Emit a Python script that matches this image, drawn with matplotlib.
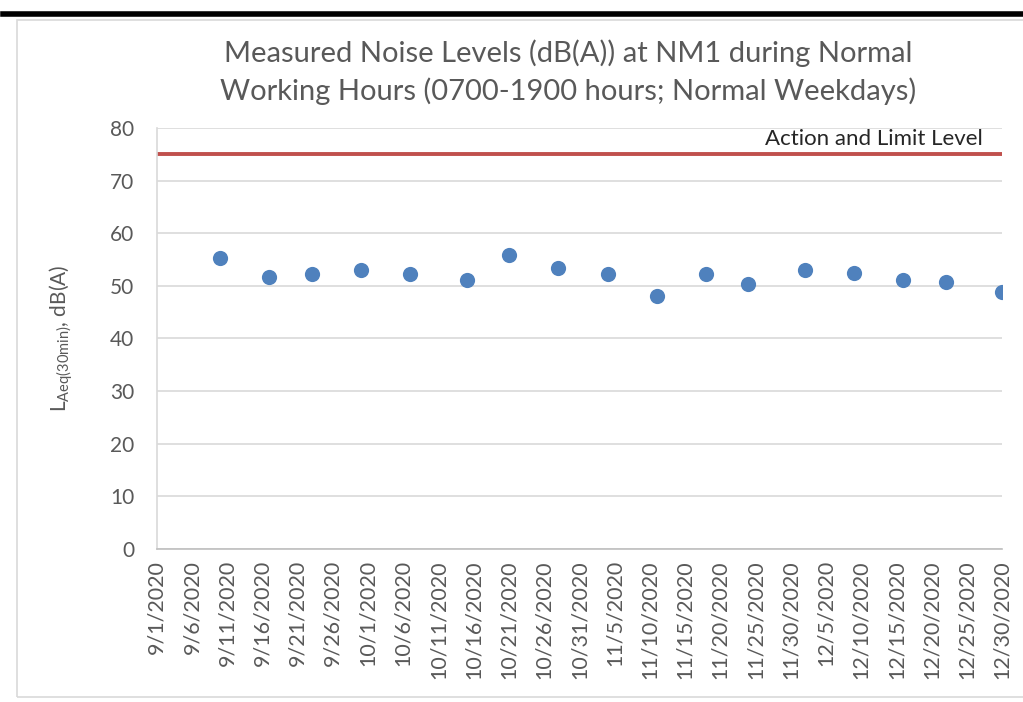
import datetime as dt
import matplotlib
matplotlib.use("Agg")
import matplotlib.pyplot as plt
import matplotlib.dates as mdates
from matplotlib.lines import Line2D
from matplotlib.patches import Rectangle

# data
dates = ["2020-09-10", "2020-09-17", "2020-09-23", "2020-09-30", "2020-10-07",
         "2020-10-15", "2020-10-21", "2020-10-28", "2020-11-04", "2020-11-11",
         "2020-11-18", "2020-11-24", "2020-12-02", "2020-12-09", "2020-12-16",
         "2020-12-22", "2020-12-30"]
laeq = [55.3, 51.7, 52.3, 53.1, 52.3, 51.1, 55.8, 53.3, 52.2, 48.0,
        52.2, 50.3, 53.0, 52.5, 51.1, 50.8, 48.9]
limit_level = 75
limit_label = "Action and Limit Level"
title = ("Measured Noise Levels (dB(A)) at NM1 during Normal\n"
         "Working Hours (0700-1900 hours; Normal Weekdays)")

TEXT = "#595959"
plt.rcParams["font.family"] = ["Lato", "DejaVu Sans"]
plt.rcParams["mathtext.fontset"] = "custom"
plt.rcParams["mathtext.rm"] = "Lato"

x = [dt.datetime.strptime(d, "%Y-%m-%d") for d in dates]
x_start = dt.datetime(2020, 9, 1)
x_end = dt.datetime(2020, 12, 30)
tick_days = mdates.drange(x_start, x_end + dt.timedelta(days=1),
                          dt.timedelta(days=5))


def fmt_date(v, pos):
    d = mdates.num2date(v)
    return f"{d.month}/{d.day}/{d.year}"


fig = plt.figure(figsize=(10.23, 7.02), dpi=100)
# chart frame and the thick black rule above it
fig.add_artist(Rectangle((17 / 1023, 1 - 697 / 702), 1.0, (697 - 20) / 702,
                         transform=fig.transFigure, fill=False,
                         edgecolor="#d9d9d9", linewidth=1.2))
fig.add_artist(Line2D([3 / 1023, 1.0], [1 - 14 / 702] * 2,
                      transform=fig.transFigure, color="black", linewidth=4))

ax = fig.add_axes([0.1532, 0.218, 0.8263, 0.5997])
ax.set_xlim(x_start, x_end)
ax.set_ylim(0, 80)
ax.set_yticks(range(0, 81, 10))
ax.xaxis.set_major_locator(plt.FixedLocator(tick_days))
ax.xaxis.set_major_formatter(plt.FuncFormatter(fmt_date))
ax.grid(axis="y", color="#d9d9d9", linewidth=1.2)
ax.set_axisbelow(True)
for side in ["top", "right"]:
    ax.spines[side].set_visible(False)
ax.spines["left"].set_color("#d9d9d9")
ax.spines["bottom"].set_color("#bfbfbf")
ax.spines["left"].set_linewidth(1.2)
ax.spines["bottom"].set_linewidth(1.2)
ax.tick_params(length=0, colors=TEXT, labelsize=15)
ax.tick_params(axis="x", rotation=90, pad=8, labelsize=15.5)
ax.tick_params(axis="y", pad=16)

ax.axhline(limit_level, color="#c0504d", linewidth=2.8)
ax.text(0.977, limit_level + 1.0, limit_label, transform=ax.get_yaxis_transform(),
        ha="right", va="bottom", fontsize=16, color="#262626")
ax.scatter(x, laeq, s=120, color="#4f81bd", zorder=3, linewidths=0)

ax.set_ylabel(r"L$_{\mathrm{Aeq(30min)}}$, dB(A)", fontsize=15, color=TEXT)
ax.yaxis.set_label_coords(-0.097, 0.5)
fig.text(0.555, 0.897, title, ha="center", va="center", fontsize=21,
         color=TEXT, linespacing=1.45)

fig.savefig("out.png", dpi=100)
